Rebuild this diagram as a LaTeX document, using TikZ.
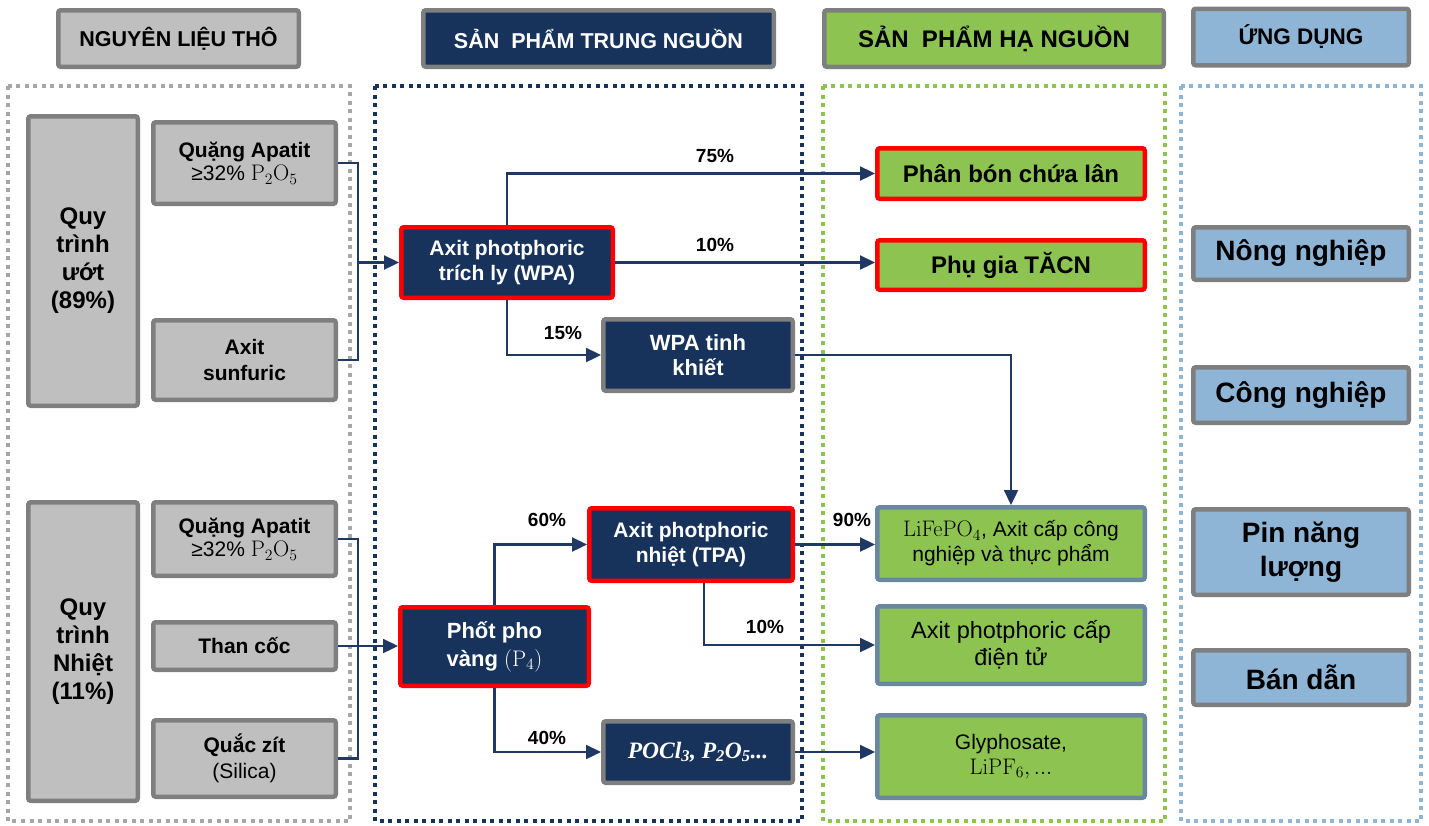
\RequirePackage{fix-cm}
\documentclass[tikz,border=0pt]{standalone}
\usepackage[no-math]{fontspec}
\setmainfont{Liberation Sans}
\newfontfamily\formfont{Liberation Serif}
\usetikzlibrary{arrows.meta,calc}

\definecolor{navy}{HTML}{17335B}
\definecolor{arrowblue}{HTML}{1F3864}
\definecolor{boxgrey}{HTML}{BFBFBF}
\definecolor{edgegrey}{HTML}{7F7F7F}
\definecolor{framegrey}{HTML}{A6A6A6}
\definecolor{leaf}{HTML}{8DC451}
\definecolor{sky}{HTML}{8EB4D6}
\definecolor{steel}{HTML}{6A86A0}
\definecolor{hotred}{HTML}{FF0000}

% chemical formulas in a slightly larger upright serif
\newcommand{\chem}[1]{{\fontsize{22.5}{25}\selectfont$\mathrm{#1}$}}

\tikzset{
  box/.style={rectangle, rounded corners=2.5pt, line width=4.5pt, inner sep=0pt,
    align=center, font=\bfseries\fontsize{21}{25.5}\selectfont},
  sz/.style 2 args={minimum width=#1pt, minimum height=#2pt},
  greybox/.style={box, draw=edgegrey, fill=boxgrey, text=black},
  navybox/.style={box, draw=edgegrey, fill=navy, text=white},
  redbox/.style={box, draw=hotred, fill=navy, text=white},
  leafred/.style={box, draw=hotred, fill=leaf, text=black, font=\bfseries\fontsize{24}{28}\selectfont},
  leafbox/.style={box, draw=steel, fill=leaf, text=black, font=\fontsize{21}{25}\selectfont},
  appbox/.style={box, draw=edgegrey, fill=sky, text=black, font=\bfseries\fontsize{28}{34}\selectfont},
  headbox/.style={box, font=\bfseries\fontsize{21.5}{25}\selectfont},
  frame/.style={line width=3.5pt, dash pattern=on 4pt off 4.5pt},
  link/.style={draw=arrowblue, line width=2.3pt},
  arrow/.style={link, -{Triangle[length=15pt,width=14pt]}},
  pct/.style={font=\bfseries\fontsize{19}{22}\selectfont, text=black, inner sep=0pt},
}

\begin{document}
\begin{tikzpicture}[x=1pt,y=-1pt]
\useasboundingbox (0,0) rectangle (1429,825);

% column frames
\draw[frame, framegrey] (8,86) rectangle (350,821);
\draw[frame, navy] (375,86) rectangle (802,821);
\draw[frame, leaf] (823,86) rectangle (1165,821);
\draw[frame, sky] (1181,86) rectangle (1421,821);

% column headers
\node[headbox, draw=edgegrey, fill=boxgrey, text=black, sz={240.5}{56.5}] (h1) at (178.5,38.5) {NGUYÊN LIỆU THÔ};
\node[headbox, draw=edgegrey, fill=navy, text=white, sz={350.5}{56.5}] (h2) at (598.5,38.5) {SẢN~~PHẨM TRUNG NGUỒN};
\node[headbox, draw=edgegrey, fill=leaf, text=black, sz={339.5}{56.5}, font=\bfseries\fontsize{24}{28}\selectfont] (h3) at (994,38.5) {SẢN~~PHẨM HẠ NGUỒN};
\node[headbox, draw=edgegrey, fill=sky, text=black, sz={215.5}{56.5}, font=\bfseries\fontsize{22.5}{26}\selectfont] (h4) at (1301,37) {ỨNG DỤNG};

% raw materials
\node[greybox, sz={109.5}{289.5}, font=\bfseries\fontsize{24}{28}\selectfont] (wet) at (83,261) {Quy\\trình\\ướt\\(89\%)};
\node[greybox, sz={109.5}{298.5}, font=\bfseries\fontsize{24}{28}\selectfont] (thermal) at (83,651.5) {Quy\\trình\\Nhiệt\\(11\%)};

\node[greybox, sz={182.5}{81.5}] (ore1) at (244.5,163) {Quặng Apatit\\[-2pt]{\mdseries ≥32\% \chem{P_2O_5}}};
\node[greybox, sz={182.5}{79.5}] (acid) at (244.5,360) {Axit\\sunfuric};
\node[greybox, sz={182.5}{73.5}] (ore2) at (244.5,539) {Quặng Apatit\\[-2pt]{\mdseries ≥32\% \chem{P_2O_5}}};
\node[greybox, sz={182.5}{47.5}] (coke) at (244.5,646) {Than cốc};
\node[greybox, sz={182.5}{76.5}] (quartz) at (244.5,758.5) {Quắc zít\\{\mdseries (Silica)}};

% midstream products
\node[redbox, sz={211.5}{70.5}] (wpa) at (507,262.5) {Axit photphoric\\trích ly (WPA)};
\node[navybox, sz={189.5}{71.5}, font=\bfseries\fontsize{22}{25.5}\selectfont] (pure) at (698,355) {WPA tinh\\khiết};
\node[redbox, sz={188.5}{78.5}, font=\bfseries\fontsize{22}{28}\selectfont] (p4) at (494.5,646.5) {Phốt pho\\vàng {\mdseries\chem{(P_4)}}};
\node[redbox, sz={203.5}{72.5}] (tpa) at (691,544.5) {Axit photphoric\\nhiệt (TPA)};
\node[navybox, sz={189.5}{61.5}, font=\formfont\bfseries\itshape\fontsize{23.5}{26}\selectfont] (pocl) at (698,752) {POCl\textsubscript{3}, P\textsubscript{2}O\textsubscript{5}...};

% downstream products
\node[leafred, sz={267.5}{50.5}] (fert) at (1011,173.5) {Phân bón chứa lân};
\node[leafred, sz={267.5}{49.5}] (feed) at (1011,265) {Phụ gia TĂCN};
\node[leafbox, sz={267.5}{72.5}] (lfp) at (1011,543.5) {\chem{LiFePO_4}, Axit cấp công\\nghiệp và thực phẩm};
\node[leafbox, sz={267.5}{77.5}, font=\fontsize{23.5}{27}\selectfont] (elec) at (1011,645) {Axit photphoric cấp\\điện tử};
\node[leafbox, sz={267.5}{82.5}] (gly) at (1011,756.5) {Glyphosate,\\\chem{LiPF_6,...}};

% applications
\node[appbox, sz={215.5}{52.5}] (agri) at (1301,253.5) {Nông nghiệp};
\node[appbox, sz={215.5}{55.5}] (ind) at (1301,395) {Công nghiệp};
\node[appbox, sz={215.5}{85.5}, font=\bfseries\fontsize{28}{34}\selectfont] (batt) at (1301,552) {Pin năng\\lượng};
\node[appbox, sz={215.5}{54.5}] (semi) at (1301,677.5) {Bán dẫn};

% wet process inputs
\coordinate (jw) at (358,262.5);
\draw[link] (ore1.east) -| (jw) |- (acid.east);
\draw[arrow] (jw) -- (jw -| wpa.west);

% thermal process inputs
\coordinate (jt) at (358,646);
\draw[link] (ore2.east) -| (jt) |- (quartz.east);
\draw[arrow] (coke.east) -- (coke.east -| p4.west);

% wet-process acid splits
\draw[arrow] (wpa.north) |- (fert.west);
\draw[arrow] (wpa.east) -- (wpa.east -| feed.west);
\draw[arrow] (wpa.south) |- (pure.west);
\draw[arrow] (pure.east) -| (lfp.north);

% yellow phosphorus splits
\draw[arrow] (p4.north) |- (tpa.west);
\draw[arrow] (p4.south) |- (pocl.west);
\draw[arrow] (tpa.east) -- (tpa.east -| lfp.west);
\draw[arrow] ([xshift=13pt]tpa.south) |- (elec.west);
\draw[arrow] (pocl.east) -- (pocl.east -| gly.west);

% shares
\node[pct] (s75) at (715,156) {75\%};
\node[pct] (s10a) at (715,245) {10\%};
\node[pct] (s15) at (563,333) {15\%};
\node[pct] (s60) at (547,520) {60\%};
\node[pct] (s40) at (547,738) {40\%};
\node[pct] (s10b) at (765,627) {10\%};
\node[pct] (s90) at (852,520) {90\%};
\end{tikzpicture}
\end{document}
